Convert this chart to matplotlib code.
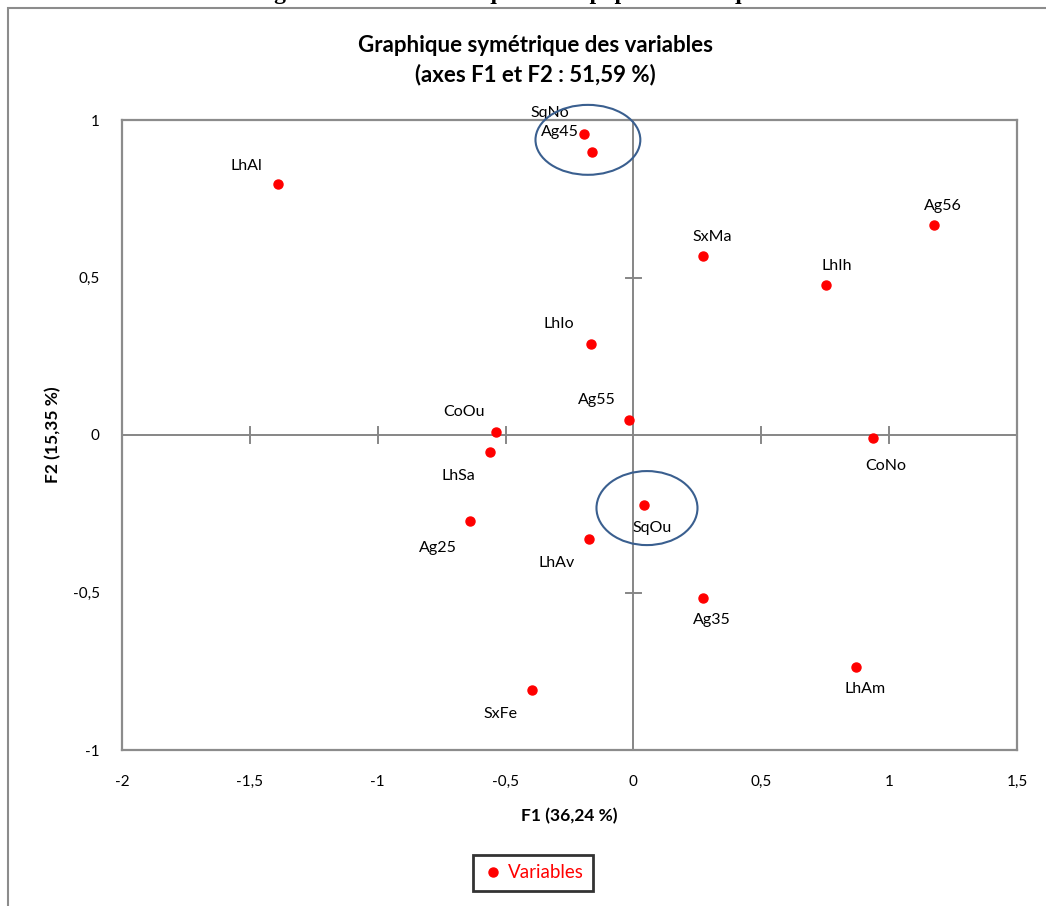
import matplotlib
matplotlib.use("Agg")
import matplotlib.pyplot as plt
from matplotlib.patches import Ellipse, Rectangle
from matplotlib.lines import Line2D

plt.rcParams['font.family'] = ['Lato', 'DejaVu Sans']

# Coordinates of the variables on F1 / F2
labels = ['SqNo', 'Ag45', 'LhAl', 'SxMa', 'Ag56', 'LhIh', 'LhIo', 'Ag55', 'CoOu',
          'CoNo', 'LhSa', 'SqOu', 'Ag25', 'LhAv', 'Ag35', 'LhAm', 'SxFe']
f1 = [-0.193, -0.162, -1.390, 0.272, 1.175, 0.753, -0.166, -0.017, -0.538,
      0.935, -0.561, 0.041, -0.639, -0.174, 0.272, 0.871, -0.395]
f2 = [0.956, 0.898, 0.797, 0.568, 0.667, 0.476, 0.289, 0.048, 0.010,
      -0.010, -0.054, -0.222, -0.273, -0.330, -0.517, -0.737, -0.810]

x_ticks = [-2, -1.5, -1, -0.5, 0, 0.5, 1, 1.5]
y_ticks = [-1, -0.5, 0, 0.5, 1]

# label placement (pixel offsets: left/up, left/down, right/up, right/down)
UL, DL, UR, DR = (-32, 20), (-32, -24), (9, 19), (9, -22)
label_pos = {'SqNo': (-34, 21), 'Ag45': UL, 'LhAl': (-32, 18), 'SxMa': UR,
             'Ag56': UR, 'LhIh': (11, 19), 'LhIo': UL, 'Ag55': UL, 'CoOu': UL,
             'CoNo': (13, -28), 'LhSa': DL, 'SqOu': (8, -23), 'Ag25': (-32, -27),
             'LhAv': DL, 'Ag35': DR, 'LhAm': DR, 'SxFe': DL}


def fmt(v):
    s = ('%g' % v).replace('.', ',')
    return s


fig = plt.figure(figsize=(10.46, 9.06), dpi=100)
W, H = 1046, 906

# outer frame of the chart object (runs off the right and bottom edges)
fig.patches.append(Rectangle((8 / W, -0.05), 1.1, 1 - 8 / H + 0.05,
                             transform=fig.transFigure, fill=False,
                             edgecolor='#8c8c8c', linewidth=1.5))
# caption of the document, cut off by the top edge as in the source
fig.text(0.5, 1 + 1 / H, 'Figure 10: Caractéristiques de la population enquêtée',
         ha='center', va='baseline', fontsize=17, fontweight='bold',
         family='Liberation Serif')

ax = fig.add_axes([122 / W, 1 - 750 / H, 895 / W, 630 / H])
ax.set_xlim(-2, 1.5)
ax.set_ylim(-1, 1)
for sp in ax.spines.values():
    sp.set_color('#8c8c8c')
    sp.set_linewidth(1.6)

ax.set_xticks(x_ticks)
ax.set_yticks(y_ticks)
ax.set_xticklabels([fmt(v) for v in x_ticks])
ax.set_yticklabels([fmt(v) for v in y_ticks])
ax.tick_params(length=0, labelsize=11, pad=18)
ax.tick_params(axis='y', pad=16)

# central axes with crossing ticks
ax.axhline(0, color='#868686', linewidth=1.4, zorder=1)
ax.axvline(0, color='#868686', linewidth=1.4, zorder=1)
for v in x_ticks[1:-1]:
    if v != 0:
        ax.plot([v, v], [-0.025, 0.025], color='#868686', linewidth=1.4, zorder=1)
for v in y_ticks[1:-1]:
    if v != 0:
        ax.plot([-0.03, 0.03], [v, v], color='#868686', linewidth=1.4, zorder=1)

ax.plot(f1, f2, 'o', color='#ff0000', markersize=6.5, zorder=3)
for lab, x, y in zip(labels, f1, f2):
    dx, dy = label_pos[lab]
    ax.annotate(lab, (x, y), xytext=(dx * 0.72, dy * 0.72), textcoords='offset points',
                ha='center', va='center', fontsize=11.5)

# highlight ellipses
ax.add_patch(Ellipse((-0.178, 0.937), 0.41, 0.222, fill=False, clip_on=False,
                     edgecolor='#3a5f8f', linewidth=1.5, zorder=4))
ax.add_patch(Ellipse((0.053, -0.232), 0.395, 0.235, fill=False, clip_on=False,
                     edgecolor='#3a5f8f', linewidth=1.5, zorder=4))

ax.set_xlabel('F1 (36,24 %)', fontsize=12.5, fontweight='bold', labelpad=14)
ax.set_ylabel('F2 (15,35 %)', fontsize=12.5, fontweight='bold', labelpad=8)

fig.text(535 / W, 1 - 45 / H, 'Graphique symétrique des variables',
         ha='center', va='center', fontsize=16, fontweight='bold')
fig.text(535 / W, 1 - 75 / H, '(axes F1 et F2 : 51,59 %)',
         ha='center', va='center', fontsize=16, fontweight='bold')

handle = Line2D([], [], marker='o', linestyle='none', color='#ff0000', markersize=6.5)
leg = fig.legend([handle], ['Variables'], loc='center', bbox_to_anchor=(533 / W, 1 - 873 / H),
                 frameon=True, fancybox=False, fontsize=13.5, handletextpad=0.2,
                 handlelength=1.2, borderpad=0.5)
leg.get_frame().set_edgecolor('black')
leg.get_frame().set_linewidth(2)
for t in leg.get_texts():
    t.set_color('#ff0000')

fig.savefig('out.png', dpi=100)
